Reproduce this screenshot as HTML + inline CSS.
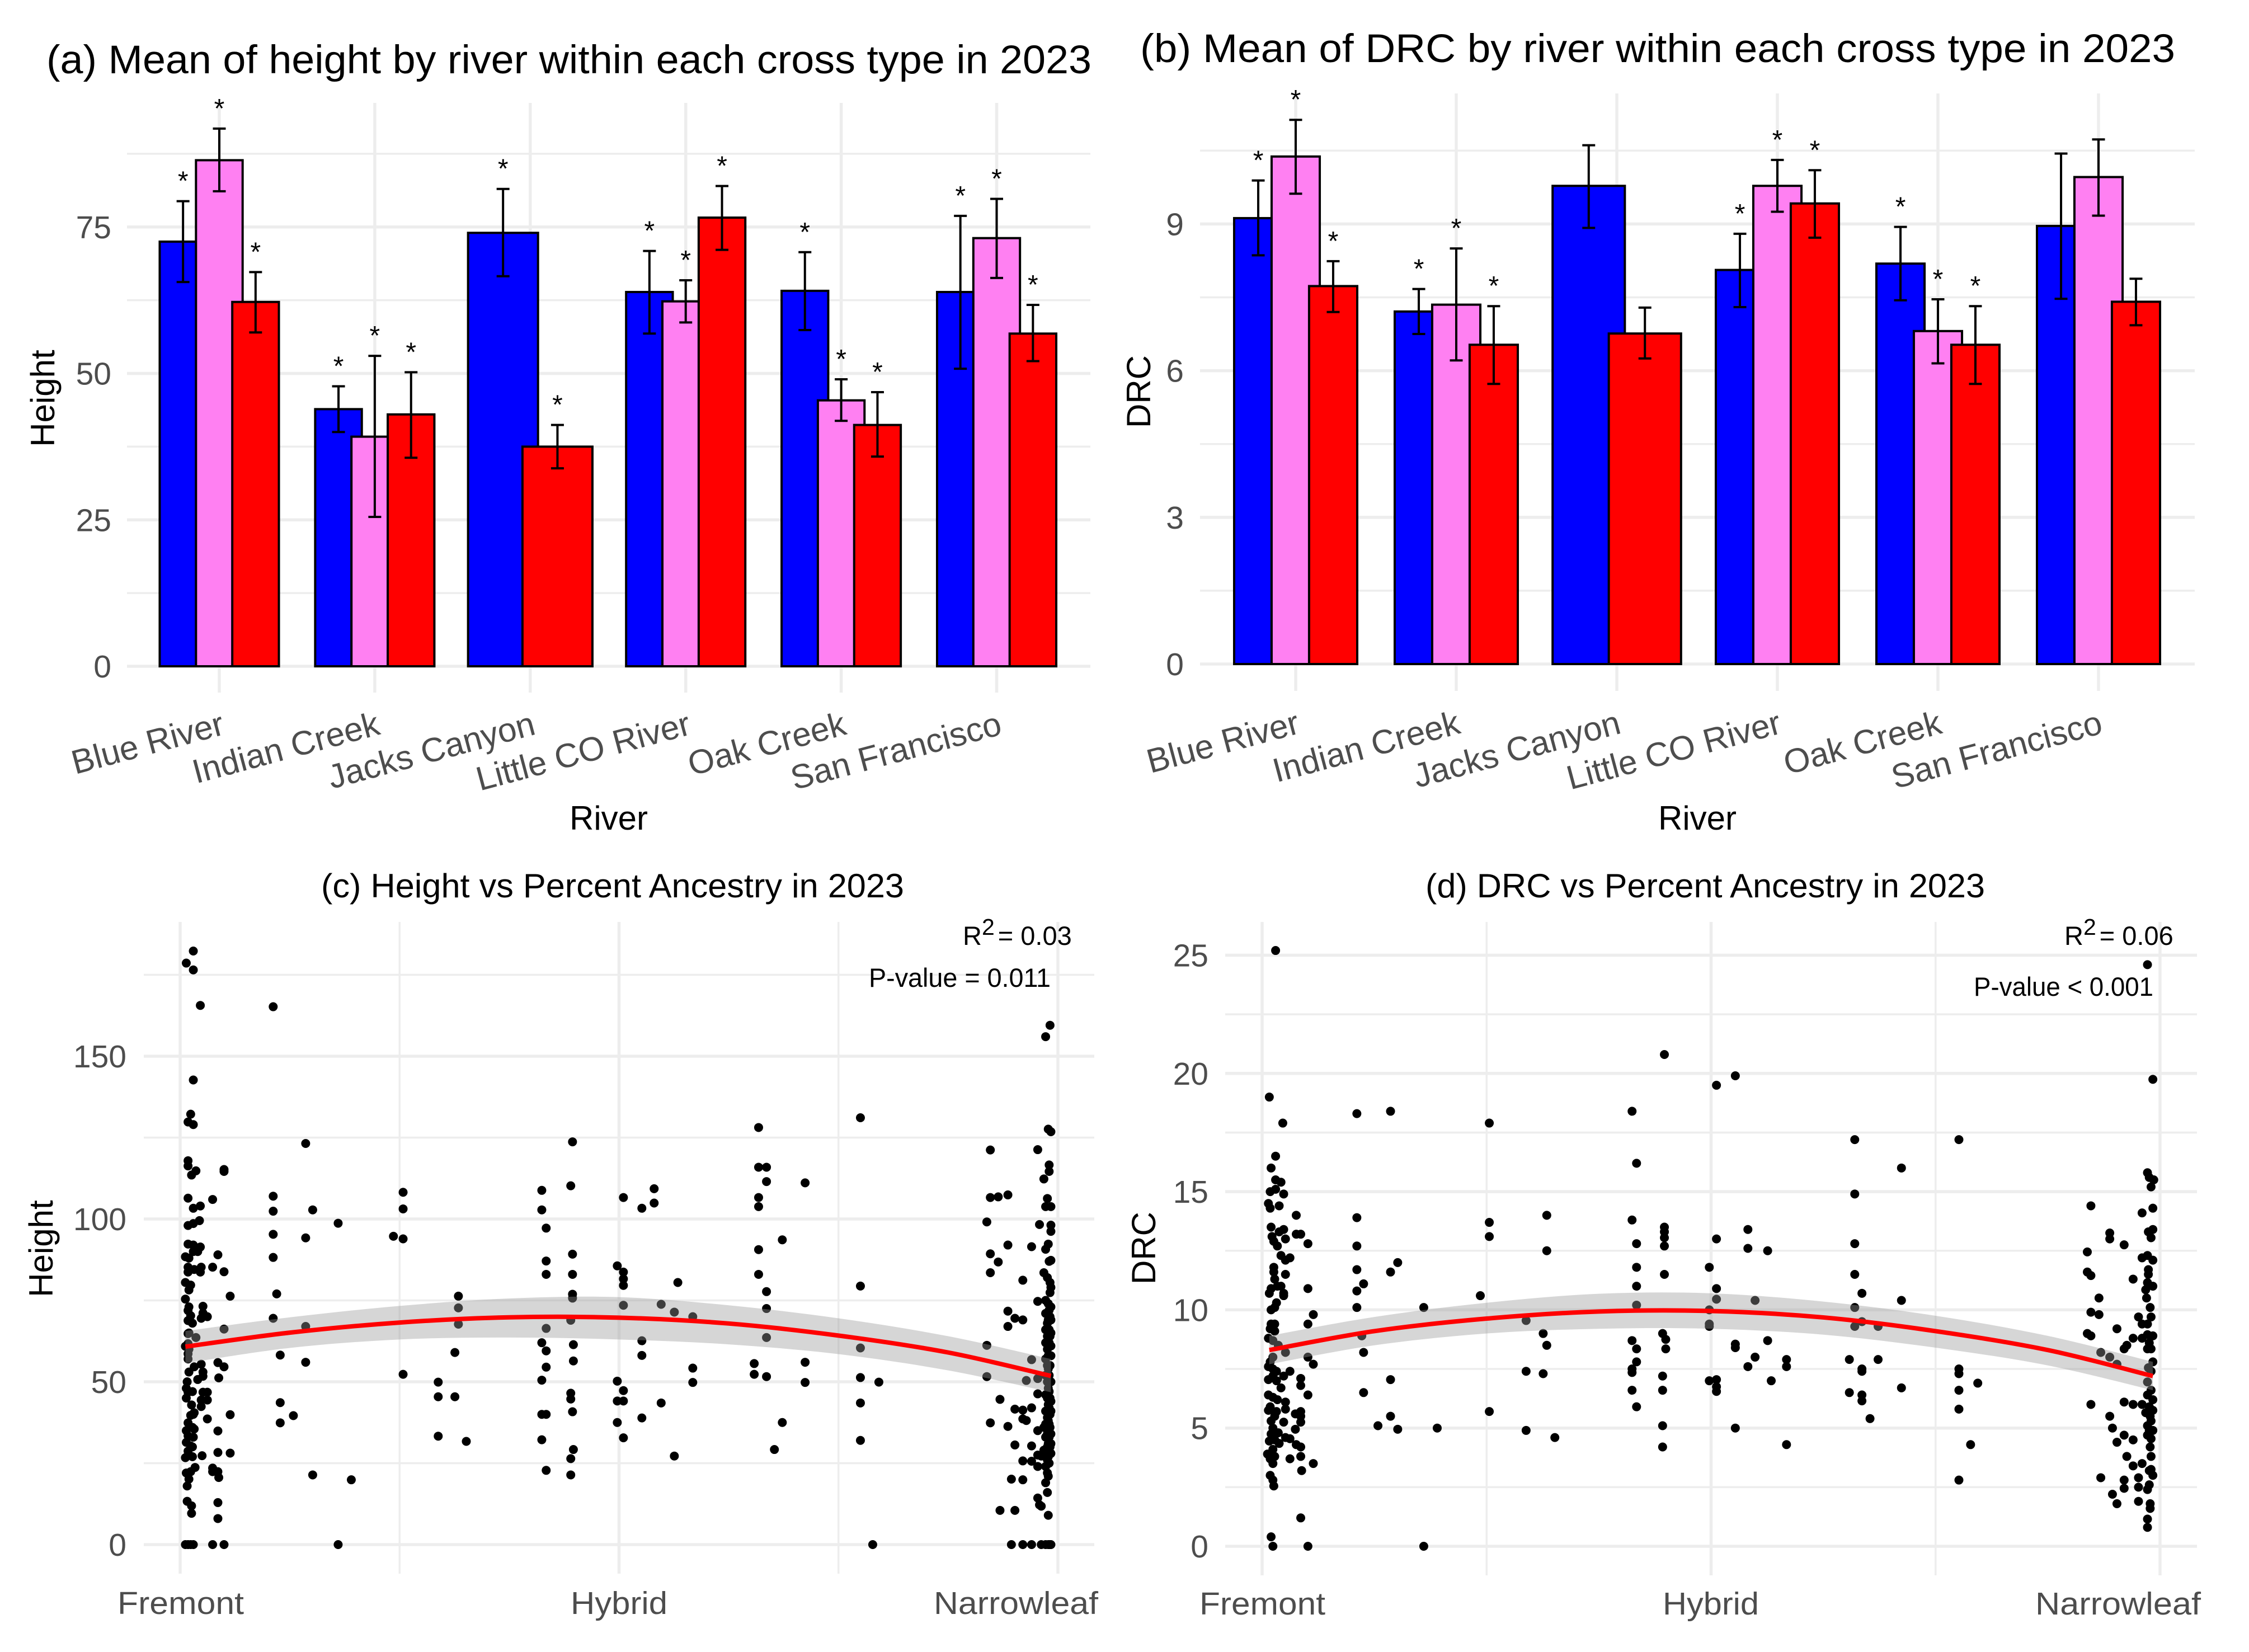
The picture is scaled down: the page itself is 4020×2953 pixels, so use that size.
<!DOCTYPE html>
<html lang="en">
<head>
<meta charset="utf-8">
<title>Height and DRC by river and ancestry in 2023</title>
<style>
html,body{margin:0;padding:0;background:#fff;}
svg{display:block;}
text{font-family:"Liberation Sans",Arial,sans-serif;}
.title{fill:#000;font-size:71px;}
.subtitle{fill:#000;font-size:60px;}
.axis-title{fill:#000;font-size:60px;}
.tick{fill:#4d4d4d;font-size:57px;}
.river-tick{fill:#4d4d4d;font-size:60.5px;}
.stat{fill:#000;font-size:47px;}
</style>
</head>
<body>
<svg id="fig" xmlns="http://www.w3.org/2000/svg" width="4020" height="2953" viewBox="0 0 4020 2953">
<rect width="4020" height="2953" fill="#fff"/>
<g id="layer"></g>
<text class="title" x="83" y="131" textLength="1868" lengthAdjust="spacingAndGlyphs">(a) Mean of height by river within each cross type in 2023</text>
<text class="title" x="2038" y="111" textLength="1850" lengthAdjust="spacingAndGlyphs">(b) Mean of DRC by river within each cross type in 2023</text>
<text class="subtitle" x="574" y="1604" textLength="1042" lengthAdjust="spacingAndGlyphs">(c) Height vs Percent Ancestry in 2023</text>
<text class="subtitle" x="2548" y="1604" textLength="1000" lengthAdjust="spacingAndGlyphs">(d) DRC vs Percent Ancestry in 2023</text>
<text class="axis-title" transform="translate(97,712) rotate(-90)" text-anchor="middle">Height</text>
<text class="axis-title" transform="translate(2056,700) rotate(-90)" text-anchor="middle">DRC</text>
<text class="axis-title" transform="translate(94,2232) rotate(-90)" text-anchor="middle">Height</text>
<text class="axis-title" transform="translate(2065,2231) rotate(-90)" text-anchor="middle">DRC</text>
<text class="axis-title" x="1088" y="1483" text-anchor="middle">River</text>
<text class="axis-title" x="3034" y="1483" text-anchor="middle">River</text>
<text class="stat" x="1721" y="1689">R<tspan dy="-18" font-size="41">2</tspan><tspan dy="18" dx="6">= 0.03</tspan></text>
<text class="stat" x="1553" y="1764" textLength="325" lengthAdjust="spacingAndGlyphs">P-value = 0.011</text>
<text class="stat" x="3690" y="1689">R<tspan dy="-18" font-size="41">2</tspan><tspan dy="18" dx="6">= 0.06</tspan></text>
<text class="stat" x="3528" y="1780" textLength="321" lengthAdjust="spacingAndGlyphs">P-value &lt; 0.001</text>
</svg>
<script>
// ---------- shared categories ----------
const rivers = ["Blue River","Indian Creek","Jacks Canyon","Little CO River","Oak Creek","San Francisco"];
const crossTypes = ["fremont","hybrid","narrowleaf"];
const xTickLabels = ["Fremont","Hybrid","Narrowleaf"];

// ---------- panel (a) mean height ----------
const heightTicks = [0,25,50,75];
const heightMinorTicks = [12.5,37.5,62.5,87.5];
const heightFremontMean = [72.5,43.9,74,63.9,64.1,63.9];
const heightFremontHigh = [79.4,47.8,81.5,70.9,70.7,76.9];
const heightFremontLow  = [65.6,40,66.6,56.8,57.4,50.8];
const heightHybridMean  = [86.4,39.2,null,62.3,45.4,73.1];
const heightHybridHigh  = [91.8,53,null,65.9,49,79.8];
const heightHybridLow   = [81.1,25.5,null,58.7,41.9,66.3];
const heightNarrowMean  = [62.2,43,37.5,76.6,41.2,56.8];
const heightNarrowHigh  = [67.3,50.2,41.2,82,46.8,61.7];
const heightNarrowLow   = [57,35.6,33.8,71.1,35.8,52.1];
const heightStarred = [true,true,true,true,true,true];

// ---------- panel (b) mean DRC ----------
const drcTicks = [0,3,6,9];
const drcMinorTicks = [1.5,4.5,7.5,10.5];
const drcFremontMean = [9.12,7.21,9.78,8.06,8.19,8.96];
const drcFremontHigh = [9.89,7.67,10.61,8.8,8.94,10.44];
const drcFremontLow  = [8.36,6.75,8.92,7.3,7.44,7.47];
const drcHybridMean  = [10.38,7.35,null,9.78,6.81,9.96];
const drcHybridHigh  = [11.13,8.5,null,10.31,7.46,10.73];
const drcHybridLow   = [9.62,6.21,null,9.25,6.15,9.17];
const drcNarrowMean  = [7.73,6.53,6.76,9.42,6.53,7.41];
const drcNarrowHigh  = [8.24,7.32,7.29,10.1,7.32,7.88];
const drcNarrowLow   = [7.2,5.73,6.25,8.72,5.73,6.93];
const drcStarred = [true,true,false,true,true,false];

// ---------- panel (c) height vs ancestry: [percent ancestry, [heights]] ----------
const scatterHeightTicks = [0,50,100,150];
const scatterHeightMinor = [25,75,125,175];
const heightPoints = [
[.6,[88.4,80.5,75.4,60.9,26.7,0]],[.7,[178.6,48,45,35,31.4,22]],[.8,[50,18,13.3]],
[.9,[129.8,117.9,116.3,106.4,98,92.3,85.2,83.7,71.9,68.8,64.8,61.7,58.6,57,46.8,37.4,33.4,28.7,0]],
[1,[88,78.2,73,65,60,53,20.1]],[1.2,[132.2,79.7,70.3,39.7,30.3,22.4,0]],[1.3,[113.5,42.9,11.9,9.6]],
[1.4,[68,47,36,30,27]],[1.5,[182.3,176.5,142.7,129,103.3,98.6,92,90,40,33,0]],[1.6,[84.5,54.6,40.5,35.5]],
[1.7,[23.7]],[1.8,[114.8,63.6]],[2,[90,50.7]],[2.2,[99.5]],[2.3,[165.6,104,91.4,83.7]],
[2.4,[85.2,69.5,55.4,44.4,42.4]],[2.5,[27.3]],[2.6,[73.2,71.1,53,51.7,46.8]],[3.1,[70,46.8,44.4,38.6]],
[3.7,[106,85.2,23.5,22.4,0]],[4.3,[89,55.9,34.9,28.3,22.4,12.9,8]],[4.4,[51.2,20.6]],
[5,[115.2,114.6,83.8,66.2,54.6,0]],[5.7,[76.3,39.9,28.1]],
[10.6,[165.2,107,102.4,95.3,88.2,69.5]],[11,[77]],[11.4,[58.2,43.6,37.4]],[12.9,[39.6]],
[14.3,[123.2,94.2,67,56]],[15.1,[102.8,21.4]],[18,[98.7,0]],[19.5,[19.9]],[24.3,[94.7]],
[25.4,[108.2,103.1,93.9,52.3]],[29.4,[49.9,45.4,33.3]],[31.3,[59,45.4]],[31.7,[76.3,72.7,67.7]],[32.6,[31.7]],
[41.2,[108.8,102.8,62,50.5,40,32.2]],[41.7,[97.2,87.1,83,66.4,59.5,54.5,40,22.8]],
[44.5,[110.2,68.9,46.5,44.7,26.4,21.4]],[44.7,[123.7,89.2,83,76.9,75.7,40.8]],[44.8,[61.4,56.4,29.2]],
[49.8,[85.6,50.2,44.1,37.5]],[50.5,[106.6,83.7,81.6,79.6,73.5,47.3,44.1,32.8]],[52.6,[103.3,62.6,58.1,38.9]],
[54,[109.3,104.9]],[54.8,[73.8,43.5]],[56.3,[71.4,27.2]],[56.7,[80.5]],[58.4,[70,54.2,49.8]],
[65.4,[55.6,52.3]],[65.9,[128.1,115.9,106.6,103.8,90.6,83]],[66.8,[115.9,111.5,77.7,72.5,63.6,51.6]],
[67.7,[29.2]],[68.6,[93.6,37.5]],[71.2,[111.1,56,49.8]],[77.5,[131.1,79.4,60.4,51.3,43.5,32]],
[78.9,[0]],[79.6,[49.9]],[91.9,[99.1,61.2,51.6]],[92.3,[121.2,106.6,89.3,83.5,37.4]],[93.2,[106.8,86.8]],
[93.4,[44.6,10.5]],[94.3,[107.4,92,71.7,67,36.3]],[94.7,[20.1,0]],[95.1,[69.5,41.6,30.6,10.5]],
[96,[81.2,69,41.3,38.6,25.7,19.9,0]],[96.4,[50.4,38.1]],[97,[91.5,56.8,42,30.3,25.6,0]],
[97.7,[121.3,74.7,51,46.3,35,27.5,24,14.3]],[97.9,[98.3,12.2]],[98.1,[27.2,11.8,0]],
[98.4,[112.3,83.5,29,36]],[98.6,[156,103.8,90.7,75,71,66,62,57,52,46,41,37,33,28,24,19,0]],
[98.8,[106.3,82,68,64,60,55,50,45,39,34,30,26,22,16]],
[98.9,[127.6,92.3,74,69,65,61,58,54,48,43,38,35,31,27,21,9,0]],
[99,[116.6,114.6,87,72,66,62,52,47,42,37,33,29,25,0]],
[99.1,[159.5,80.5,77.4,70,64,55,45,40,36,30,0]],
[99.2,[126.8,103.8,98.1,96.2,87.3,79,73,69,65,61,58,50,44,41,34,31,28,0]]
];
const heightCurveX = [.6,12.5,25,37.5,50,62.5,75,87.5,99.2];
const heightCurveFit = [60.8,65.1,68.2,69.8,69.7,67.9,64.2,59,51.8];
const heightCurveUpper = [65.6,69.8,73.3,75.6,76,73.5,69.5,64,57];
const heightCurveLower = [55.7,60.4,63,63.6,63,61.5,58.5,53.5,46.8];

// ---------- panel (d) DRC vs ancestry: [percent ancestry, [DRC]] ----------
const scatterDrcTicks = [0,5,10,15,20,25];
const scatterDrcMinor = [2.5,7.5,12.5,17.5,22.5];
const drcPoints = [
[.6,[3.9]],[.7,[14.5,8.8,7.6,7.05,6.4,5.75]],[.8,[19,10.7,4.45]],[.9,[15,14.3,9.2,7.8,5.9,3.7,3]],
[1,[16,13.5,10.9,10,9.4,5.3,4.75,.4]],[1.1,[13.1]],[1.2,[8.7,8,7.5,7.2,6.3,5,4.1,3.5,2.8,0]],
[1.3,[12.9,11.8,11.6,2.55]],[1.4,[11.3,10.1,9.4,9.1,5.5,4.5,3.8]],[1.5,[25.2,16.5,15.5,15.1]],
[1.6,[10.3,7.4,7,5.7]],[1.7,[12.7,11,6.2]],[1.8,[8.5,4.8]],[1.9,[14.4,13.3,4.35]],[2.1,[15.4,12.3,11,6.7]],
[2.3,[17.9]],[2.4,[14.9,13.4,10.7,10.6,7.2,5.25]],[2.6,[13,12.1,11.5,8.2,6.1,5.8,4.6]],
[3.1,[12.2,7.4,4.55,3.7]],[3.7,[5.6,4.95]],[3.8,[14,13.2,4.3]],[4.3,[13.2,7.1,6.8,5.7,5.5,5.25,4.2,3.8,1.2]],
[4.4,[3.2]],[5.1,[12.8,10.9,9.4,8,6.4,0]],[5.7,[9.8,7.7,3.5]],
[10.55,[18.3,13.9,12.7,11.7,10.8,10.1]],[11.1,[8.9]],[11.3,[11.1,8.2,6.5]],[12.9,[5.1]],
[14.3,[18.4,11.6,7.05,5.5]],[15.1,[12,4.95]],[18,[10.1,0]],[19.5,[5]],[24.3,[10.6]],
[25.3,[17.9,13.7,13.1,5.7]],[29.4,[9.55,7.4,4.9]],[31.3,[9,7.3]],[31.7,[14,12.5,8.5]],[32.6,[4.6]],
[41.2,[18.4,13.8,8.7,7.5,7.35,6.6]],[41.7,[16.2,12.8,11.8,11,10.2,8.35,7.8,5.9]],
[44.6,[9,7.2,6.6,5.1,4.2]],[44.8,[20.8,13.5,13.3,13.05,12.7,11.5]],[44.95,[8.75,8.35]],
[49.8,[11.8,10,9.4,9.3,7]],[50.6,[19.5,13,10.9,10.45,7.05,6.75,6.55]],[52.7,[19.9,8.55,8.4,5]],
[54.1,[13.4,12.6,7.6]],[54.9,[10.4,8]],[56.3,[12.5,8.7]],[56.7,[7]],[58.4,[7.9,7.6,4.3]],
[65.4,[7.9,6.5]],[66,[17.2,14.9,12.8,11.5,10.1,9.3]],[66.8,[10.7,9.5,7.5,7.4,6.4,6.15]],[67.7,[5.4]],
[68.6,[9.3,7.9]],[71.2,[16,10.4,6.7]],[77.6,[17.2,7.5,7.3,6.6,5.8,2.8]],[78.9,[4.3]],[79.7,[6.9]],
[91.9,[12.45,11.6,9]],[92.3,[14.4,11.45,9.9,8.9,6]],[93.2,[10.5,9.8]],[93.4,[8.2,2.9]],
[94.4,[13.25,13,8,5.5]],[94.7,[5,2.2]],[95.2,[9.2,7.7,4.4,1.8]],[96,[12.75,8.35,6.1,4.7,2.8,2.45]],
[96.3,[8.5,3.8]],[97,[11.3,8.8,6,4.5,3.4]],[97.6,[9.7,2.9,2.5,1.9]],[98,[14.1,12.2,9.4,8.8,6,3.5]],
[98.4,[10.85,5.65]],[98.5,[10.5]],[98.6,[24.6,15.8,12.3,11.15,9.4,8.95,8.35,6.95,6.4,5.1,4.7,2.4,1.15,.8]],
[98.7,[13.3,11.7,11.5,7.55]],[98.8,[15.6,8.6,5.9,2.6,4.9,3.2]],[98.9,[10.1,5.5,4.2,1.8,1.6]],
[99,[15.2,13.05,9.7,8.35,7.4,6.6,5.3,4.55,3.8,3.25]],[99.2,[19.75,14.3,13.4,12.1,11,8.9,7.8,6.2,5.75,4.9,3]],
[99.3,[15.5]]
];
const drcCurveX = [.8,12.5,25,37.5,50,62.5,75,87.5,99.2];
const drcCurveFit = [8.3,9.1,9.63,9.93,9.95,9.68,9.1,8.3,7.2];
const drcCurveUpper = [8.9,9.7,10.3,10.68,10.7,10.35,9.75,8.9,7.8];
const drcCurveLower = [7.7,8.5,9,9.2,9.2,8.95,8.4,7.65,6.6];

// ---------- drawing helpers ----------
const NS = "http://www.w3.org/2000/svg";
const layer = document.getElementById("layer");
const GRID = "#ededed";
const FILLS = {fremont:"#0000ff",hybrid:"#ff80f2",narrowleaf:"#ff0000"};

function shape(tag, attrs){
  const el = document.createElementNS(NS, tag);
  for (const k in attrs) el.setAttribute(k, attrs[k]);
  layer.appendChild(el);
  return el;
}
function label(content, attrs){
  const el = shape("text", attrs);
  el.textContent = content;
  return el;
}
function smoothPath(pts, start){
  let d = (start ? "M" : "L") + pts[0][0] + " " + pts[0][1];
  for (let i = 0; i < pts.length - 1; i++){
    const p0 = pts[Math.max(i-1,0)], p1 = pts[i], p2 = pts[i+1], p3 = pts[Math.min(i+2,pts.length-1)];
    const c1x = p1[0] + (p2[0]-p0[0])/6, c1y = p1[1] + (p2[1]-p0[1])/6;
    const c2x = p2[0] - (p3[0]-p1[0])/6, c2y = p2[1] - (p3[1]-p1[1])/6;
    d += "C" + c1x + " " + c1y + " " + c2x + " " + c2y + " " + p2[0] + " " + p2[1];
  }
  return d;
}
function drawHGrid(box, yScale, values, width, prefix){
  values.forEach(v => {
    const line = shape("line", {x1:box.left, x2:box.right, y1:yScale(v), y2:yScale(v), stroke:GRID, "stroke-width":width});
    
    
  });
}
function drawVGrid(box, x, width, prefix){
  const line = shape("line", {x1:x, x2:x, y1:box.top, y2:box.bottom, stroke:GRID, "stroke-width":width});
  
  
}
function drawYTicks(box, yScale, ticks, prefix){
  ticks.forEach(v => {
    const t = label(String(v), {class:"tick", x:box.tickRight, y:yScale(v)+20, "text-anchor":"end"});
    
    
  });
}

function drawBars(box, ticks, minor, series, starred, prefix){
  const yScale = v => box.y0 - v * box.yUnit;
  const xScale = i => box.x0 + i * box.step;
  drawHGrid(box, yScale, minor, 3.5, prefix);
  drawHGrid(box, yScale, ticks, 5.5, prefix);
  rivers.forEach((r,i) => drawVGrid(box, xScale(i), 5.5, prefix));
  drawYTicks(box, yScale, ticks, prefix);

  const errs = [];
  rivers.forEach((river,i) => {
    const present = series.filter(s => s.mean[i] !== null);
    const n = present.length;
    const barW = 0.9 / n * box.step;
    const gap = 0.7 / n * box.step;
    present.forEach((s,j) => {
      const cx = xScale(i) + (j - (n-1)/2) * gap;
      const top = yScale(s.mean[i]);
      const bar = shape("rect", {x:cx-barW/2, y:top, width:barW, height:box.y0-top, fill:FILLS[s.key], stroke:"#000", "stroke-width":4});
      
      
      errs.push({cx:cx, hi:yScale(s.high[i]), lo:yScale(s.low[i]), star:starred[i], key:s.key});
    });
    const tick = label(river, {class:"river-tick", "text-anchor":"end",
      transform:"translate(" + (xScale(i)+box.labelDx) + "," + box.labelY + ") rotate(-15)"});
    
    
  });
  errs.forEach(e => {
    const stem = shape("path", {d:"M"+(e.cx-11.5)+" "+e.hi+"H"+(e.cx+11.5)+"M"+e.cx+" "+e.hi+"V"+e.lo+"M"+(e.cx-11.5)+" "+e.lo+"H"+(e.cx+11.5),
      fill:"none", stroke:"#000", "stroke-width":4});
    
    
    if (e.star){
      const star = label("*", {x:e.cx, y:e.hi-20, "text-anchor":"middle", "font-size":48, fill:"#000"});
      
      
    }
  });
}

function drawScatter(box, ticks, minor, points, curveX, fit, upper, lower, prefix){
  const yScale = v => box.y0 - v * box.yUnit;
  const xScale = p => box.x0 + p * box.xUnit;
  drawHGrid(box, yScale, minor, 3.5, prefix);
  drawHGrid(box, yScale, ticks, 5.5, prefix);
  [25,75].forEach(p => drawVGrid(box, xScale(p), 3.5, prefix));
  [0,50,100].forEach(p => drawVGrid(box, xScale(p), 5.5, prefix));
  drawYTicks(box, yScale, ticks, prefix);

  points.forEach(col => {
    col[1].forEach(v => {
      const dot = shape("circle", {cx:xScale(col[0]), cy:yScale(v), r:8, fill:"#000"});
      
      
    });
  });

  const up = curveX.map((p,i) => [xScale(p), yScale(upper[i])]);
  const lo = curveX.map((p,i) => [xScale(p), yScale(lower[i])]).reverse();
  const band = shape("path", {d:smoothPath(up,true)+smoothPath(lo,false)+"Z", fill:"#999999", "fill-opacity":0.4});
  
  
  const fitPts = curveX.map((p,i) => [xScale(p), yScale(fit[i])]);
  const line = shape("path", {d:smoothPath(fitPts,true), fill:"none", stroke:"#ff0000", "stroke-width":8});
  
  

  xTickLabels.forEach((name,i) => {
    const t = label(name, {class:"tick", x:box.xLabelLeft[i], y:box.xLabelY, textLength:box.xLabelLen[i], lengthAdjust:"spacingAndGlyphs"});
    
    
  });
}

// ---------- panels ----------
drawBars({left:227,right:1949,top:184,bottom:1238,y0:1191,yUnit:10.47,x0:392,step:277.9,tickRight:199,labelDx:12,labelY:1312},
  heightTicks, heightMinorTicks,
  [{key:crossTypes[0],mean:heightFremontMean,high:heightFremontHigh,low:heightFremontLow},
   {key:crossTypes[1],mean:heightHybridMean,high:heightHybridHigh,low:heightHybridLow},
   {key:crossTypes[2],mean:heightNarrowMean,high:heightNarrowHigh,low:heightNarrowLow}],
  heightStarred, "panel-a");

drawBars({left:2145,right:3923,top:167,bottom:1235,y0:1187,yUnit:87.4,x0:2316,step:287,tickRight:2116,labelDx:10,labelY:1310},
  drcTicks, drcMinorTicks,
  [{key:crossTypes[0],mean:drcFremontMean,high:drcFremontHigh,low:drcFremontLow},
   {key:crossTypes[1],mean:drcHybridMean,high:drcHybridHigh,low:drcHybridLow},
   {key:crossTypes[2],mean:drcNarrowMean,high:drcNarrowHigh,low:drcNarrowLow}],
  drcStarred, "panel-b");

drawScatter({left:257,right:1956,top:1648,bottom:2813,y0:2761,yUnit:5.82,x0:322,xUnit:15.69,tickRight:226,
    xLabelLeft:[210,1020,1669],xLabelLen:[226,173,294],xLabelY:2885},
  scatterHeightTicks, scatterHeightMinor, heightPoints, heightCurveX, heightCurveFit, heightCurveUpper, heightCurveLower, "panel-c");

drawScatter({left:2190,right:3927,top:1648,bottom:2816,y0:2764,yUnit:42.26,x0:2256,xUnit:16.05,tickRight:2160,
    xLabelLeft:[2144,2972,3638],xLabelLen:[225,172,296],xLabelY:2886},
  scatterDrcTicks, scatterDrcMinor, drcPoints, drcCurveX, drcCurveFit, drcCurveUpper, drcCurveLower, "panel-d");
</script>
</body>
</html>
